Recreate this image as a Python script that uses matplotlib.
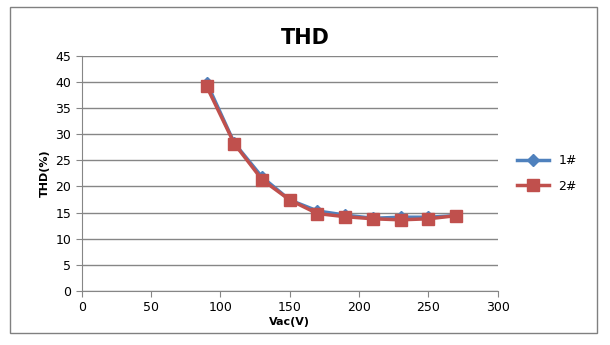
import matplotlib
matplotlib.use("Agg")
import matplotlib.pyplot as plt
from matplotlib.patches import Rectangle

vac = [90, 110, 130, 150, 170, 190, 210, 230, 250, 270]
thd_1 = [39.9, 28.3, 21.8, 17.4, 15.3, 14.5, 13.9, 14.1, 14.1, 14.4]
thd_2 = [39.2, 28.2, 21.3, 17.4, 14.8, 14.2, 13.8, 13.6, 13.8, 14.4]

fig = plt.figure(figsize=(6.1, 3.45), dpi=100)
fig.patches.append(Rectangle((10 / 610, 12 / 345), 587 / 610, 326 / 345,
                             transform=fig.transFigure, fill=False,
                             edgecolor='#808080', linewidth=1))
ax = fig.add_axes([0.134, 0.157, 0.682, 0.681])

ax.plot(vac, thd_1, color='#4F81BD', linewidth=2.5, marker='D', markersize=6, label='1#')
ax.plot(vac, thd_2, color='#C0504D', linewidth=2.5, marker='s', markersize=8, label='2#')

ax.set_xlim(0, 300)
ax.set_ylim(0, 45)
ax.set_xticks(range(0, 301, 50))
ax.set_yticks(range(0, 46, 5))
ax.grid(axis='y', color='#868686', linewidth=1)
ax.set_axisbelow(True)
for s in ['top', 'right']:
    ax.spines[s].set_visible(False)
for s in ['left', 'bottom']:
    ax.spines[s].set_color('#868686')
ax.tick_params(colors='#868686', labelcolor='black', labelsize=9, length=4)

ax.set_xlabel('Vac(V)', fontsize=8, fontweight='bold', labelpad=2)
ax.set_ylabel('THD(%)', fontsize=8, fontweight='bold', labelpad=4)
fig.text(0.5, 0.89, 'THD', ha='center', va='center', fontsize=15, fontweight='bold')

ax.legend(loc='center left', bbox_to_anchor=(1.02, 0.5), frameon=False,
          fontsize=9, handlelength=2.5, labelspacing=1.0)

fig.savefig('out.png', dpi=100)
